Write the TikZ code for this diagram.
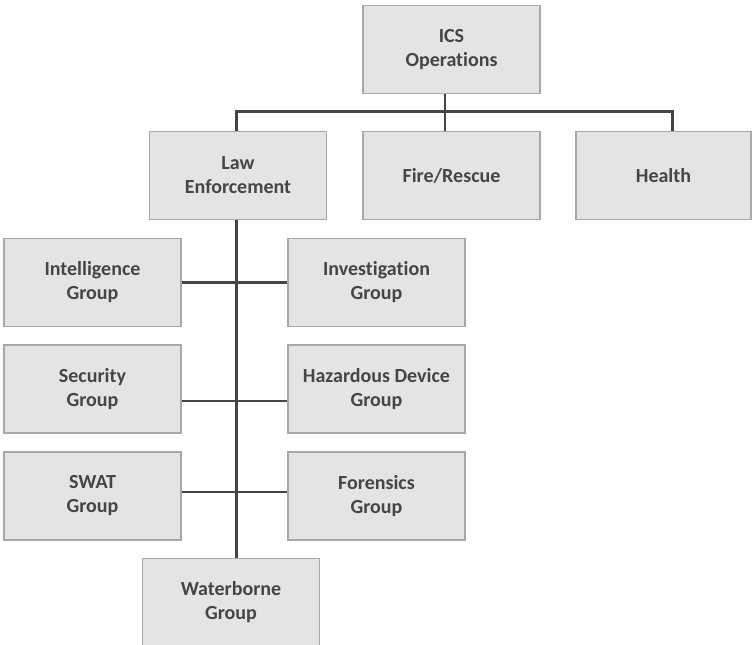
\documentclass[tikz,border=0pt]{standalone}
\usepackage{fontspec}
\setmainfont{Carlito}[Ligatures=CommonOff]
\usepackage{tikz}

\definecolor{boxfill}{HTML}{E4E4E4}
\definecolor{boxline}{HTML}{A8A8A8}
\definecolor{ink}{HTML}{454545}

\begin{document}
\begin{tikzpicture}[x=1pt, y=-1pt,
    unit/.style ={rectangle, draw=boxline, line width=1.3pt, fill=boxfill,
      minimum width=177pt, minimum height=88pt, align=center,
      text=ink, font=\fontsize{20}{24}\selectfont\bfseries},
    link/.style ={draw=ink, line width=2.8pt}]
   \useasboundingbox (0,0) rectangle (753,645);

   \node[unit] (ICS) at (451.5,49.75)  {ICS\\Operations};
   \node[unit] (LE)  at (238,175.5)  {Law\\Enforcement};
   \node[unit] (FR)  at (451.5,175.5)  {Fire/Rescue};
   \node[unit, minimum width=175pt] (HE) at (663.5,175.5)  {Health};
   \node[unit] (IG) at (92.5,282.5)  {Intelligence\\Group};
   \node[unit] (IV) at (376.5,282.5)  {Investigation\\Group};
   \node[unit] (SG) at (92.5,389)  {Security\\Group};
   \node[unit] (HD) at (376.5,389)  {Hazardous Device\\Group};
   \node[unit] (SW) at (92.5,496)  {SWAT\\Group};
   \node[unit] (FO) at (376.5,496)  {Forensics\\Group};
   \node[unit] (WB) at (231,602.3)  {Waterborne\\Group};

   \coordinate (drop) at (445,111.7);
   \coordinate (spine) at (236.7,0);
   \coordinate (hdrop) at (672.7,0);

   \draw[link] (ICS.south -| drop) to  (FR.north -| drop);
   \draw[link] (LE.north -| spine) -- (spine |- drop) -| (HE.north -| hdrop);
   \draw[link] (LE.south -| spine) to  (WB.north -| spine);
   \draw[link] (IG.east) to  (IV.west);
   \draw[link] ([yshift=-12pt]SG.east) to  ([yshift=-12pt]HD.west);
   \draw[link] ([yshift=4pt]SW.east) to  ([yshift=4pt]FO.west);
 \end{tikzpicture}
\end{document}
